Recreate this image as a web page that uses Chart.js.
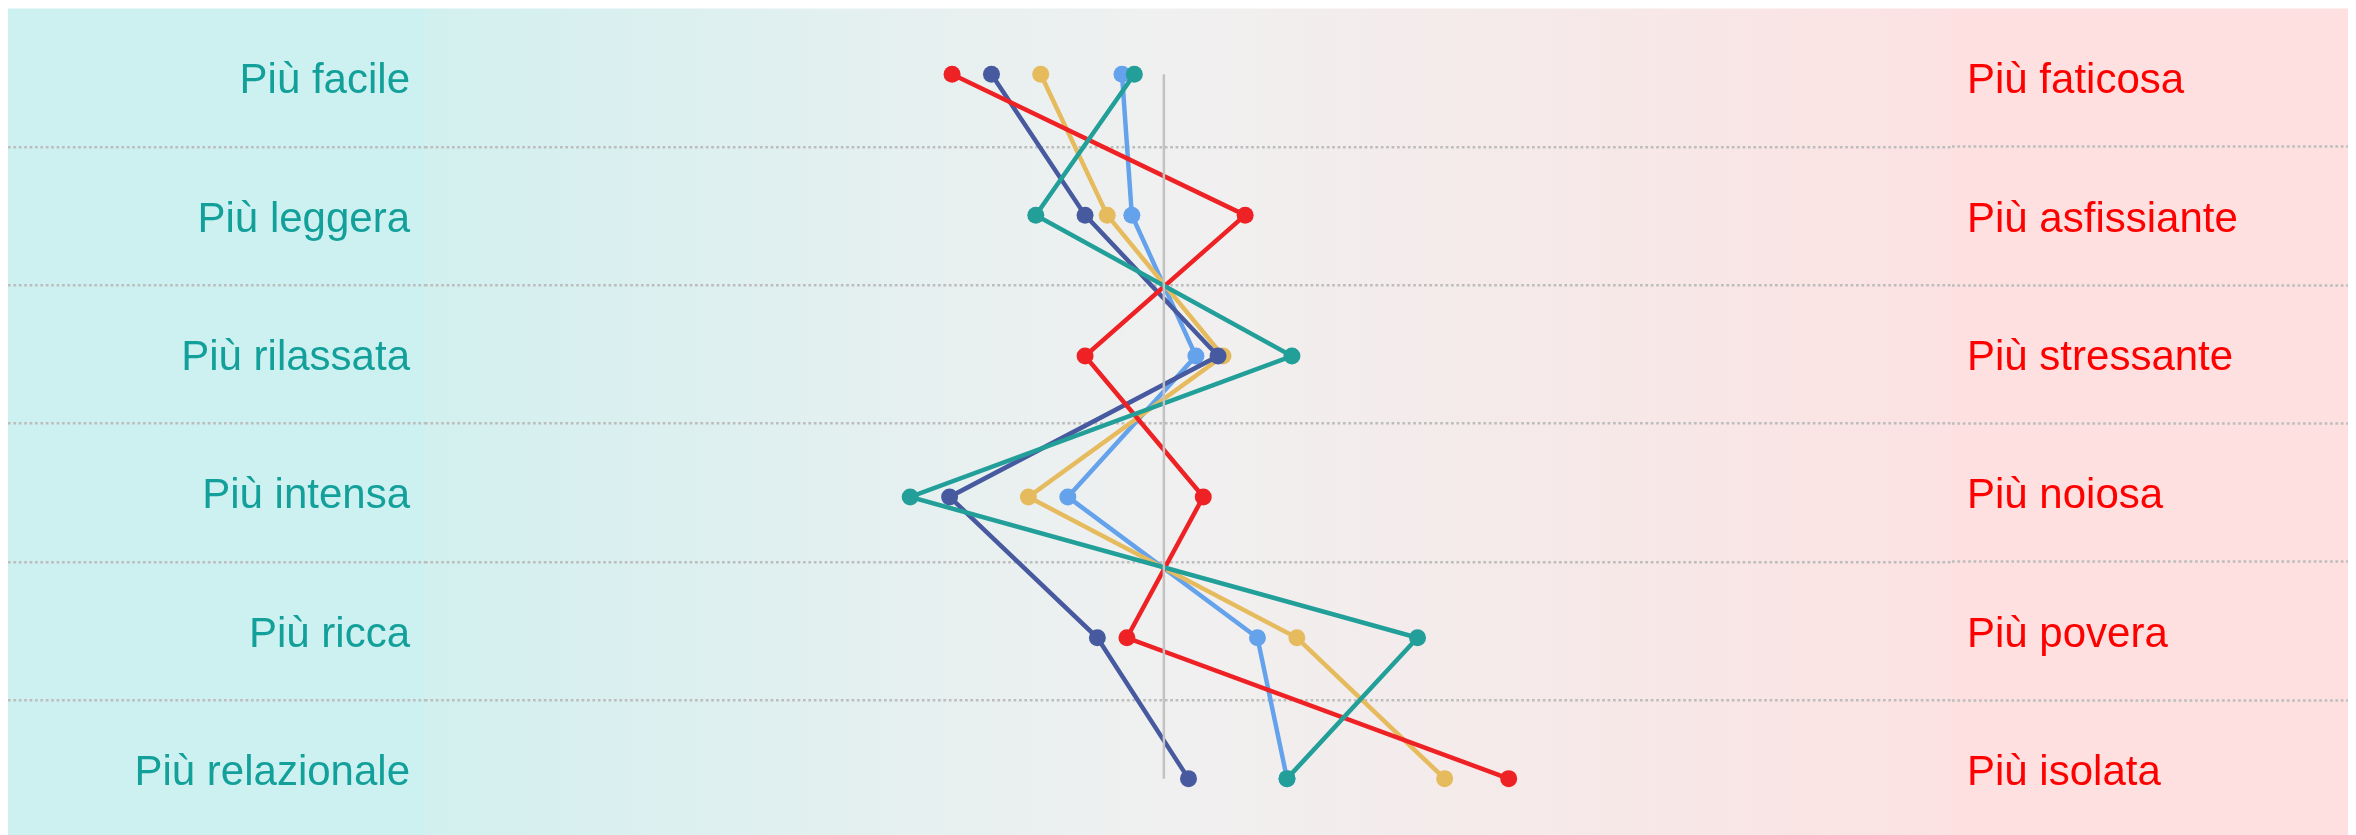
<!DOCTYPE html>
<html>
<head>
<meta charset="utf-8">
<script src="https://cdn.jsdelivr.net/npm/chart.js@4/dist/chart.umd.min.js"></script>
<style>
  html, body { margin: 0; padding: 0; background: #ffffff; overflow: hidden; }
  #wrap { width: 2356px; height: 847px; position: relative; }
</style>
</head>
<body>
<div id="wrap"><canvas id="profileChart"></canvas></div>
<script>
// Labels of the two poles, top to bottom
const leftLabels = ['Più facile', 'Più leggera', 'Più rilassata', 'Più intensa', 'Più ricca', 'Più relazionale'];
const rightLabels = ['Più faticosa', 'Più asfissiante', 'Più stressante', 'Più noiosa', 'Più povera', 'Più isolata'];
const rows = [1, 2, 3, 4, 5, 6];

// Mean position of each group on every row (0 = neutral)
const tealValues = [-0.12, -0.52, 0.52, -1.03, 1.03, 0.50];
const redValues = [-0.86, 0.33, -0.32, 0.16, -0.15, 1.40];
const navyValues = [-0.70, -0.32, 0.22, -0.87, -0.27, 0.10];
const yellowValues = [-0.50, -0.23, 0.24, -0.55, 0.54, 1.14];
const blueValues = [-0.17, -0.13, 0.13, -0.39, 0.38, 0.50];

const neutral = [0, 0];
const neutralRows = [1, 6];

function toPoints(values, ys) {
    return values.map((v, i) => ({ x: v, y: ys[i] }));
}

function series(values, color) {
    return {
        data: toPoints(values, rows),
        borderColor: color,
        backgroundColor: color,
        borderWidth: 4.5,
        pointRadius: 8.5,
        pointBorderWidth: 0,
        pointHoverRadius: 8.5,
        xAxisID: 'x',
        yAxisID: 'yv',
        tension: 0
    };
}

// Panels behind the axes and the gradient in the plot area
const backgroundPlugin = {
    id: 'panels',
    beforeDraw(chart) {
        const { ctx, chartArea } = chart;
        const left = chart.scales.yl;
        const right = chart.scales.yr;
        const h = chart.height - chartArea.top;
        ctx.save();
        ctx.fillStyle = '#ccf1f0';
        ctx.fillRect(left.left, chartArea.top, left.width, h);
        ctx.fillStyle = '#ffe0e0';
        ctx.fillRect(right.left, chartArea.top, right.width, h);
        const zero = chart.scales.x.getPixelForValue(0);
        const g = ctx.createLinearGradient(chartArea.left, 0, chartArea.right, 0);
        g.addColorStop(0, '#d2f0ef');
        g.addColorStop((zero - chartArea.left) / (chartArea.right - chartArea.left), '#f0f0f0');
        g.addColorStop(1, '#fce2e2');
        ctx.fillStyle = g;
        ctx.fillRect(chartArea.left, chartArea.top, chartArea.right - chartArea.left, h);
        ctx.restore();
    }
};

const gridColor = c => (c.tick === undefined || c.index === 0) ? 'rgba(0,0,0,0)' : '#bdbdbd';
const labelFont = { family: "'Liberation Sans', Arial, sans-serif", size: 42 };

new Chart(document.getElementById('profileChart'), {
    type: 'line',
    data: {
        datasets: [
            {
                data: toPoints(neutral, neutralRows),
                borderColor: '#c2c2c2',
                borderWidth: 2.5,
                pointRadius: 0,
                xAxisID: 'x',
                yAxisID: 'yv'
            },
            series(tealValues, '#239f9a'),
            series(redValues, '#ee2225'),
            series(navyValues, '#475a9f'),
            series(yellowValues, '#e6bb5e'),
            series(blueValues, '#65a2ec')
        ]
    },
    options: {
        responsive: true,
        maintainAspectRatio: false,
        animation: false,
        layout: { padding: { left: 8, right: 8, top: 6, bottom: 0 } },
        plugins: {
            legend: { display: false },
            tooltip: { enabled: false }
        },
        scales: {
            x: {
                type: 'linear',
                display: false,
                min: -3,
                max: 3.2
            },
            yv: {
                type: 'linear',
                display: false,
                reverse: true,
                min: 0.533,
                max: 6.425
            },
            yl: {
                type: 'category',
                position: 'left',
                labels: leftLabels,
                offset: true,
                border: { display: false, dash: [2.7, 2.7] },
                grid: {
                    offset: true,
                    color: gridColor,
                    lineWidth: 2.5,
                    tickColor: gridColor,
                    tickWidth: 2.5,
                    tickBorderDash: [2.7, 2.7],
                    tickLength: 417
                },
                ticks: {
                    color: '#14a09a',
                    padding: -402,
                    labelOffset: 4,
                    font: labelFont
                },
                afterFit(scale) { scale.width = 417; }
            },
            yr: {
                type: 'category',
                position: 'right',
                labels: rightLabels,
                offset: true,
                border: { display: false },
                grid: {
                    offset: true,
                    drawOnChartArea: false,
                    tickColor: gridColor,
                    tickWidth: 2.5,
                    tickBorderDash: [2.7, 2.7],
                    tickLength: 396
                },
                ticks: {
                    color: '#ff0000',
                    padding: -381,
                    labelOffset: 4,
                    font: labelFont
                },
                afterFit(scale) { scale.width = 396; }
            }
        }
    },
    plugins: [backgroundPlugin]
});
</script>
</body>
</html>
